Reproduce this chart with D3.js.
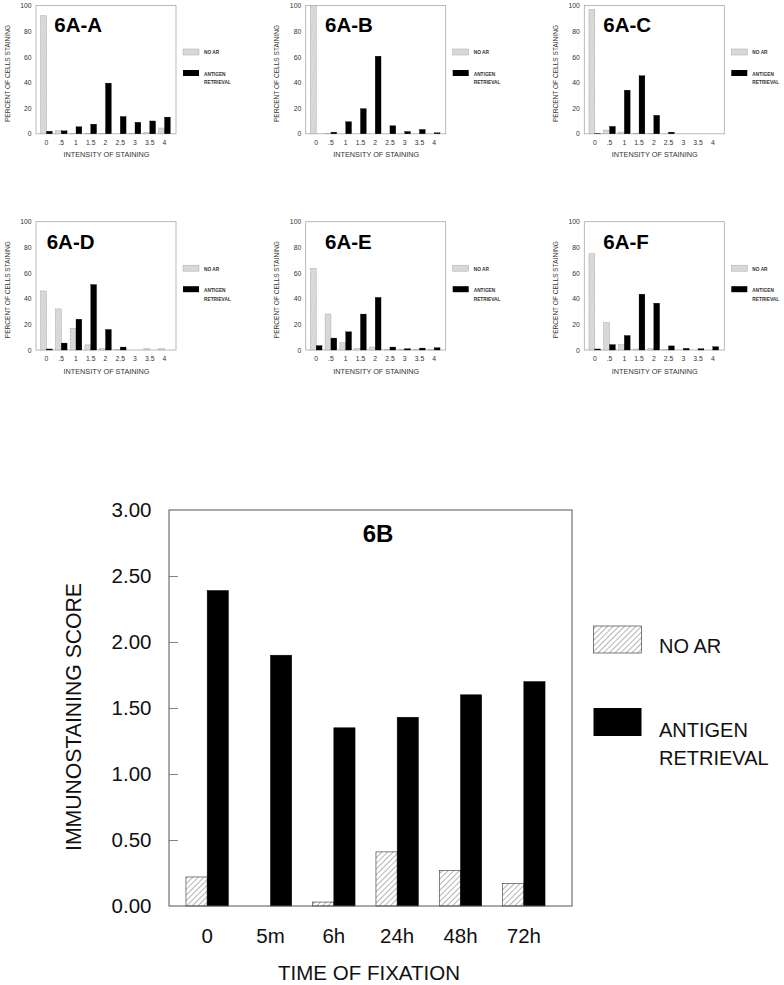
<!DOCTYPE html>
<html>
<head>
<meta charset="utf-8">
<script src="https://cdn.jsdelivr.net/npm/d3@7"></script>
<style>
  html, body { margin: 0; padding: 0; background: #fff; }
  svg { display: block; font-family: "Liberation Sans", Arial, Helvetica, sans-serif; }
</style>
</head>
<body>
<svg id="chart" width="784" height="985"></svg>
<script>
// ---------- DATA ----------
const intensityLabels = ["0", ".5", "1", "1.5", "2", "2.5", "3", "3.5", "4"];
const percentTicks = [0, 20, 40, 60, 80, 100];
const panelTitles = ["6A-A", "6A-B", "6A-C", "6A-D", "6A-E", "6A-F"];

const noAR_A = [92, 2.5, 0.3, 0.3, 0.3, 0, 0.3, 1, 4.5];
const ar_A   = [2, 2.3, 5.5, 7.5, 39.5, 13.5, 9, 10, 13];
const noAR_B = [100, 0.3, 0, 0, 0, 0, 0, 0, 0];
const ar_B   = [0, 1.3, 9.4, 19.6, 60.5, 6.3, 1.8, 3.4, 0.8];
const noAR_C = [97, 2.9, 1.3, 0.3, 0.3, 0, 0, 0, 0];
const ar_C   = [0.3, 5.8, 34, 45.3, 14.4, 1.3, 0, 0, 0];
const noAR_D = [46, 32, 17, 4, 1.3, 0.5, 0, 1, 1];
const ar_D   = [0.8, 5.4, 24, 51, 16, 2.3, 0, 0, 0];
const noAR_E = [63.5, 28, 5.7, 1.3, 2.3, 0.5, 0.5, 0.3, 0.5];
const ar_E   = [3.4, 9.3, 14.2, 28, 41, 2.3, 1, 1.5, 1.8];
const noAR_F = [75, 21.5, 4.2, 0.8, 1, 0.5, 0, 0, 0];
const ar_F   = [0.8, 4.2, 11.3, 43.5, 36.5, 3.2, 1.3, 1, 2.6];

const fixationLabels = ["0", "5m", "6h", "24h", "48h", "72h"];
const noAR_6B = [0.22, 0, 0.03, 0.41, 0.27, 0.17];
const ar_6B   = [2.39, 1.90, 1.35, 1.43, 1.60, 1.70];
const scoreTicks = [0, 0.5, 1, 1.5, 2, 2.5, 3];

const seriesNames = ["NO AR", "ANTIGEN RETRIEVAL"];

// ---------- LAYOUT ----------
const svg = d3.select("#chart");
const defs = svg.append("defs");

// hatch patterns
const pSmall = defs.append("pattern").attr("id", "hatchSmall")
  .attr("patternUnits", "userSpaceOnUse").attr("width", 2.5).attr("height", 2.5)
  .attr("patternTransform", "rotate(45)");
pSmall.append("rect").attr("width", 2.5).attr("height", 2.5).attr("fill", "#dedede");
pSmall.append("line").attr("x1", 0).attr("y1", 0).attr("x2", 0).attr("y2", 2.5)
  .attr("stroke", "#b8b8b8").attr("stroke-width", 0.8);

const pBig = defs.append("pattern").attr("id", "hatchBig")
  .attr("patternUnits", "userSpaceOnUse").attr("width", 4).attr("height", 4)
  .attr("patternTransform", "rotate(45)");
pBig.append("rect").attr("width", 4).attr("height", 4).attr("fill", "#fff");
pBig.append("line").attr("x1", 0).attr("y1", 0).attr("x2", 0).attr("y2", 4)
  .attr("stroke", "#444").attr("stroke-width", 0.8);

const panels = [
  { left: 36,    top: 5.5,   noAR: noAR_A, ar: ar_A, tdx: 18.3 },
  { left: 305.7, top: 5.5,   noAR: noAR_B, ar: ar_B, tdx: 19.3 },
  { left: 584.3, top: 5.5,   noAR: noAR_C, ar: ar_C, tdx: 19 },
  { left: 36,    top: 221.7, noAR: noAR_D, ar: ar_D, tdx: 10.7 },
  { left: 305.7, top: 221.7, noAR: noAR_E, ar: ar_E, tdx: 19.3 },
  { left: 584.3, top: 221.7, noAR: noAR_F, ar: ar_F, tdx: 19 }
];
const pw = 140, ph = 128.3;

panels.forEach((p, i) => {
  const g = svg.append("g");
  const x = d3.scaleBand().domain(intensityLabels)
    .range([p.left + 3.2, p.left + pw - 4.2]).paddingInner(0.21).paddingOuter(0.1);
  const xs = d3.scaleBand().domain(seriesNames).range([0, x.bandwidth()]);
  const y = d3.scaleLinear().domain([0, 100]).range([p.top + ph, p.top]);

  // frame
  g.append("rect").attr("x", p.left).attr("y", p.top).attr("width", pw).attr("height", ph)
    .attr("fill", "none").attr("stroke", "#a8a8a8").attr("stroke-width", 0.8);

  // y axis labels
  const ya = d3.axisLeft(y).tickValues(percentTicks).tickSize(0).tickPadding(4.5);
  const yg = g.append("g").attr("transform", `translate(${p.left},0)`).call(ya);
  yg.select(".domain").remove();
  yg.selectAll("text").attr("font-size", 6.8).attr("fill", "#333").attr("font-family", null);

  // x axis labels
  const xa = d3.axisBottom(x).tickSize(0).tickPadding(6);
  const xg = g.append("g").attr("transform", `translate(0,${p.top + ph})`).call(xa);
  xg.select(".domain").remove();
  xg.selectAll("text").attr("font-size", 6.8).attr("fill", "#333").attr("font-family", null);

  // bars
  const rows = intensityLabels.map((k, j) => ({ k, vals: [p.noAR[j], p.ar[j]] }));
  rows.forEach(r => {
    r.vals.forEach((v, s) => {
      if (v <= 0) return;
      g.append("rect")
        .attr("x", x(r.k) + xs(seriesNames[s]))
        .attr("y", y(v))
        .attr("width", xs.bandwidth())
        .attr("height", y(0) - y(v))
        .attr("fill", s === 0 ? "url(#hatchSmall)" : "#000")
        .attr("stroke", s === 0 ? "#aaa" : "#000")
        .attr("stroke-width", s === 0 ? 0.5 : 0.3);
    });
  });

  // title
  g.append("text").attr("x", p.left + p.tdx).attr("y", p.top + 26.8)
    .attr("font-size", 20.5).attr("font-weight", "bold").attr("fill", "#000")
    .text(panelTitles[i]);

  // axis titles
  g.append("text").attr("x", p.left + pw / 2 + 0.5).attr("y", p.top + ph + 23.5)
    .attr("text-anchor", "middle").attr("font-size", 7).attr("fill", "#333")
    .attr("textLength", 86).attr("lengthAdjust", "spacingAndGlyphs")
    .text("INTENSITY OF STAINING");
  g.append("text")
    .attr("transform", `translate(${p.left - 26.5},${p.top + 68}) rotate(-90)`)
    .attr("text-anchor", "middle").attr("font-size", 7).attr("fill", "#333")
    .attr("textLength", 97).attr("lengthAdjust", "spacingAndGlyphs")
    .text("PERCENT OF CELLS STAINING");

  // legend
  const lx = p.left + pw + 7;
  g.append("rect").attr("x", lx).attr("y", p.top + 43.5).attr("width", 16).attr("height", 6)
    .attr("fill", "url(#hatchSmall)").attr("stroke", "#aaa").attr("stroke-width", 0.5);
  g.append("text").attr("x", lx + 21).attr("y", p.top + 48.8)
    .attr("font-size", 4.8).attr("font-weight", "bold").attr("fill", "#333").text("NO AR");
  g.append("rect").attr("x", lx).attr("y", p.top + 64.5).attr("width", 16).attr("height", 6)
    .attr("fill", "#000");
  g.append("text").attr("x", lx + 21).attr("y", p.top + 70.3)
    .attr("font-size", 4.8).attr("font-weight", "bold").attr("fill", "#333").text("ANTIGEN");
  g.append("text").attr("x", lx + 21).attr("y", p.top + 78.8)
    .attr("font-size", 4.8).attr("font-weight", "bold").attr("fill", "#333").text("RETRIEVAL");
});

// ---------- 6B ----------
const B = { left: 169, right: 572, top: 510, bottom: 906 };
const g6 = svg.append("g");
const xB = d3.scaleBand().domain(fixationLabels).range([175.5, 555.5])
  .paddingInner(0.33).paddingOuter(0.165);
const xBs = d3.scaleBand().domain(seriesNames).range([0, xB.bandwidth()]);
const yB = d3.scaleLinear().domain([0, 3]).range([B.bottom, B.top]);

// bars
fixationLabels.forEach((k, j) => {
  [noAR_6B[j], ar_6B[j]].forEach((v, s) => {
    if (v <= 0) return;
    g6.append("rect")
      .attr("x", xB(k) + xBs(seriesNames[s]))
      .attr("y", yB(v))
      .attr("width", xBs.bandwidth())
      .attr("height", yB(0) - yB(v))
      .attr("fill", s === 0 ? "url(#hatchBig)" : "#000")
      .attr("stroke", s === 0 ? "#333" : "#000")
      .attr("stroke-width", s === 0 ? 0.6 : 0.5);
  });
});

// frame
g6.append("rect").attr("x", B.left).attr("y", B.top)
  .attr("width", B.right - B.left).attr("height", B.bottom - B.top)
  .attr("fill", "none").attr("stroke", "#555").attr("stroke-width", 1);

// y axis: ticks inside
const yaB = d3.axisRight(yB).tickValues(scoreTicks).tickSize(9).tickFormat(() => "");
const ygB = g6.append("g").attr("transform", `translate(${B.left},0)`).call(yaB);
ygB.select(".domain").remove();
ygB.selectAll("line").attr("stroke", "#666").attr("stroke-width", 0.8);
ygB.selectAll(".tick").filter(d => d === 0 || d === 3).remove();

const yLab = d3.axisLeft(yB).tickValues(scoreTicks).tickSize(0).tickPadding(17.5)
  .tickFormat(d3.format(".2f"));
const ylg = g6.append("g").attr("transform", `translate(${B.left},0)`).call(yLab);
ylg.select(".domain").remove();
ylg.selectAll("text").attr("font-size", 20.5).attr("fill", "#111").attr("font-family", null);

// x labels
const xaB = d3.axisBottom(xB).tickSize(0).tickPadding(22);
const xgB = g6.append("g").attr("transform", `translate(0,${B.bottom})`).call(xaB);
xgB.select(".domain").remove();
xgB.selectAll("text").attr("font-size", 20.5).attr("fill", "#111").attr("font-family", null);

// titles
g6.append("text").attr("x", 378).attr("y", 541.7).attr("text-anchor", "middle")
  .attr("font-size", 24).attr("font-weight", "bold").attr("fill", "#000").text("6B");

g6.append("text").attr("x", 369).attr("y", 980).attr("text-anchor", "middle")
  .attr("font-size", 21).attr("fill", "#111")
  .attr("textLength", 182).attr("lengthAdjust", "spacingAndGlyphs")
  .text("TIME OF FIXATION");

g6.append("text").attr("transform", "translate(81,717) rotate(-90)")
  .attr("text-anchor", "middle").attr("font-size", 22).attr("fill", "#111")
  .attr("textLength", 268).attr("lengthAdjust", "spacingAndGlyphs")
  .text("IMMUNOSTAINING SCORE");

// legend
g6.append("rect").attr("x", 593.5).attr("y", 626).attr("width", 48).attr("height", 27)
  .attr("fill", "url(#hatchBig)").attr("stroke", "#444").attr("stroke-width", 0.7);
g6.append("text").attr("x", 659).attr("y", 653).attr("font-size", 20).attr("fill", "#111")
  .text("NO AR");
g6.append("rect").attr("x", 593.5).attr("y", 708).attr("width", 48).attr("height", 28)
  .attr("fill", "#000");
g6.append("text").attr("x", 659).attr("y", 736.5).attr("font-size", 20).attr("fill", "#111")
  .text("ANTIGEN");
g6.append("text").attr("x", 659).attr("y", 765).attr("font-size", 20).attr("fill", "#111")
  .text("RETRIEVAL");
</script>
</body>
</html>
